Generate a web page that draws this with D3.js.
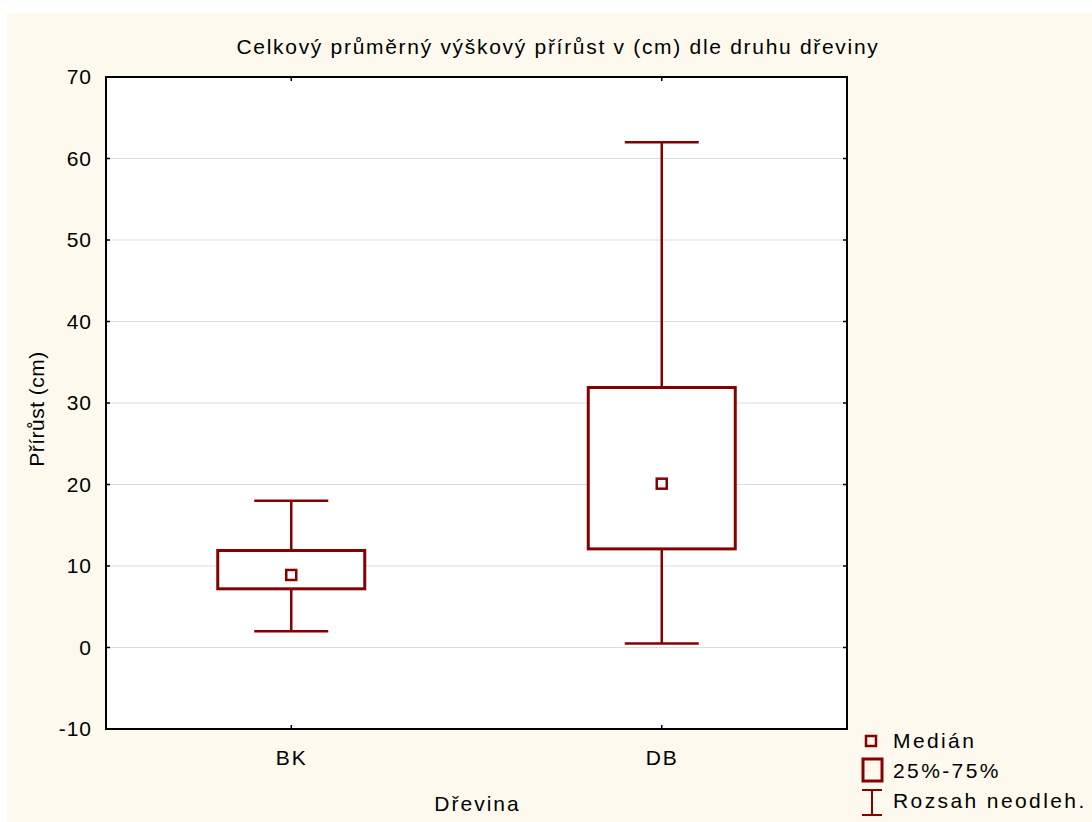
<!DOCTYPE html>
<html>
<head>
<meta charset="utf-8">
<script src="https://cdn.jsdelivr.net/npm/d3@7"></script>
<style>
  body { margin: 0; background: #ffffff; }
  text { font-family: "Liberation Sans", Arial, sans-serif; fill: #000; }
</style>
</head>
<body>
<div id="chart"></div>
<script>
// data
let categories = ["BK", "DB"];
let mins = [2, 0.5];
let q1 = [7.2, 12.1];
let medians = [8.9, 20.1];
let q3 = [11.9, 31.9];
let maxs = [18, 62];
let yTicks = [-10, 0, 10, 20, 30, 40, 50, 60, 70];
let legendLabels = ["Medián", "25%-75%", "Rozsah neodleh."];

let width = 1092, height = 822;
let plotL = 106, plotR = 847, plotT = 77, plotB = 729;
let red = "#850000";
let fontFam = "Liberation Sans, Arial, sans-serif";

let svg = d3.select("#chart")
    .append("svg")
    .attr("width", width)
    .attr("height", height);

// cream backdrop
svg.append("rect")
    .attr("x", 7).attr("y", 13)
    .attr("width", width - 7).attr("height", height - 13)
    .attr("fill", "#fdf9ee");

svg.append("rect")
    .attr("x", plotL).attr("y", plotT)
    .attr("width", plotR - plotL).attr("height", plotB - plotT)
    .attr("fill", "#ffffff");

let y = d3.scaleLinear().domain([-10, 70]).range([plotB, plotT]);
let x = d3.scalePoint().domain(categories).range([plotL, plotR]).padding(0.5);

// grid lines
svg.append("g").selectAll("line")
    .data(yTicks.slice(1, -1))
    .enter().append("line")
    .attr("x1", plotL).attr("x2", plotR)
    .attr("y1", d => y(d)).attr("y2", d => y(d))
    .attr("stroke", "#dcdcdc").attr("stroke-width", 1);

// y axis (labels only, ticks drawn inward)
let yAxis = svg.append("g")
    .attr("transform", "translate(" + plotL + ",0)")
    .call(d3.axisLeft(y).tickValues(yTicks).tickSize(0).tickPadding(14)
      .tickFormat(d => String(d)));
yAxis.select(".domain").remove();
yAxis.selectAll("text")
    .attr("font-size", 21)
    .attr("letter-spacing", 1)
    .attr("font-family", fontFam);

let xAxis = svg.append("g")
    .attr("transform", "translate(0," + plotB + ")")
    .call(d3.axisBottom(x).tickSize(0).tickPadding(21));
xAxis.select(".domain").remove();
xAxis.selectAll("text")
    .attr("font-size", 21)
    .attr("letter-spacing", 2)
    .attr("font-family", fontFam);

// inner ticks
let ticksG = svg.append("g").attr("stroke", "#000").attr("stroke-width", 1.5);
yTicks.forEach(function(t) {
  ticksG.append("line").attr("x1", plotL).attr("x2", plotL + 4).attr("y1", y(t)).attr("y2", y(t));
  ticksG.append("line").attr("x1", plotR - 4).attr("x2", plotR).attr("y1", y(t)).attr("y2", y(t));
});
categories.forEach(function(c) {
  ticksG.append("line").attr("x1", x(c)).attr("x2", x(c)).attr("y1", plotT).attr("y2", plotT + 4);
  ticksG.append("line").attr("x1", x(c)).attr("x2", x(c)).attr("y1", plotB - 4).attr("y2", plotB);
});

// frame
svg.append("rect")
    .attr("x", plotL).attr("y", plotT)
    .attr("width", plotR - plotL).attr("height", plotB - plotT)
    .attr("fill", "none").attr("stroke", "#000").attr("stroke-width", 2);

// boxes
let boxW = 147, capW = 74, medS = 10;
let boxes = svg.append("g");
categories.forEach(function(c, i) {
  let cx = x(c);
  let g = boxes.append("g").attr("stroke", red).attr("fill", "none");
  g.append("line").attr("x1", cx).attr("x2", cx).attr("y1", y(q3[i])).attr("y2", y(maxs[i])).attr("stroke-width", 2.5);
  g.append("line").attr("x1", cx).attr("x2", cx).attr("y1", y(q1[i])).attr("y2", y(mins[i])).attr("stroke-width", 2.5);
  g.append("line").attr("x1", cx - capW / 2).attr("x2", cx + capW / 2).attr("y1", y(maxs[i])).attr("y2", y(maxs[i])).attr("stroke-width", 2.5);
  g.append("line").attr("x1", cx - capW / 2).attr("x2", cx + capW / 2).attr("y1", y(mins[i])).attr("y2", y(mins[i])).attr("stroke-width", 2.5);
  g.append("rect")
      .attr("x", cx - boxW / 2).attr("y", y(q3[i]))
      .attr("width", boxW).attr("height", y(q1[i]) - y(q3[i]))
      .attr("fill", "#ffffff").attr("stroke-width", 3);
  g.append("rect")
      .attr("x", cx - medS / 2).attr("y", y(medians[i]) - medS / 2)
      .attr("width", medS).attr("height", medS)
      .attr("fill", "#ffffff").attr("stroke-width", 2.5);
});

// titles
svg.append("text")
    .attr("x", 558).attr("y", 54)
    .attr("text-anchor", "middle")
    .attr("font-size", 21)
    .attr("letter-spacing", 1.7)
    .text("Celkový průměrný výškový přírůst v (cm) dle druhu dřeviny");

svg.append("text")
    .attr("transform", "translate(44,409) rotate(-90)")
    .attr("text-anchor", "middle")
    .attr("font-size", 21)
    .attr("letter-spacing", 0.5)
    .text("Přírůst (cm)");

svg.append("text")
    .attr("x", (plotL + plotR) / 2 + 1).attr("y", 811)
    .attr("text-anchor", "middle")
    .attr("font-size", 21)
    .attr("letter-spacing", 2)
    .text("Dřevina");

// legend
let lg = svg.append("g").attr("stroke", red).attr("fill", "none");
lg.append("rect").attr("x", 866).attr("y", 736).attr("width", 10).attr("height", 10).attr("stroke-width", 2.5);
lg.append("rect").attr("x", 863).attr("y", 759).attr("width", 19).attr("height", 22).attr("stroke-width", 3);
lg.append("line").attr("x1", 862).attr("x2", 882).attr("y1", 790).attr("y2", 790).attr("stroke-width", 2);
lg.append("line").attr("x1", 862).attr("x2", 882).attr("y1", 815).attr("y2", 815).attr("stroke-width", 2);
lg.append("line").attr("x1", 872).attr("x2", 872).attr("y1", 790).attr("y2", 815).attr("stroke-width", 2);

svg.append("g").selectAll("text")
    .data(legendLabels)
    .enter().append("text")
    .attr("x", 893)
    .attr("y", (d, i) => 748 + i * 30)
    .attr("font-size", 21)
    .attr("letter-spacing", 2.4)
    .text(d => d);
</script>
</body>
</html>
